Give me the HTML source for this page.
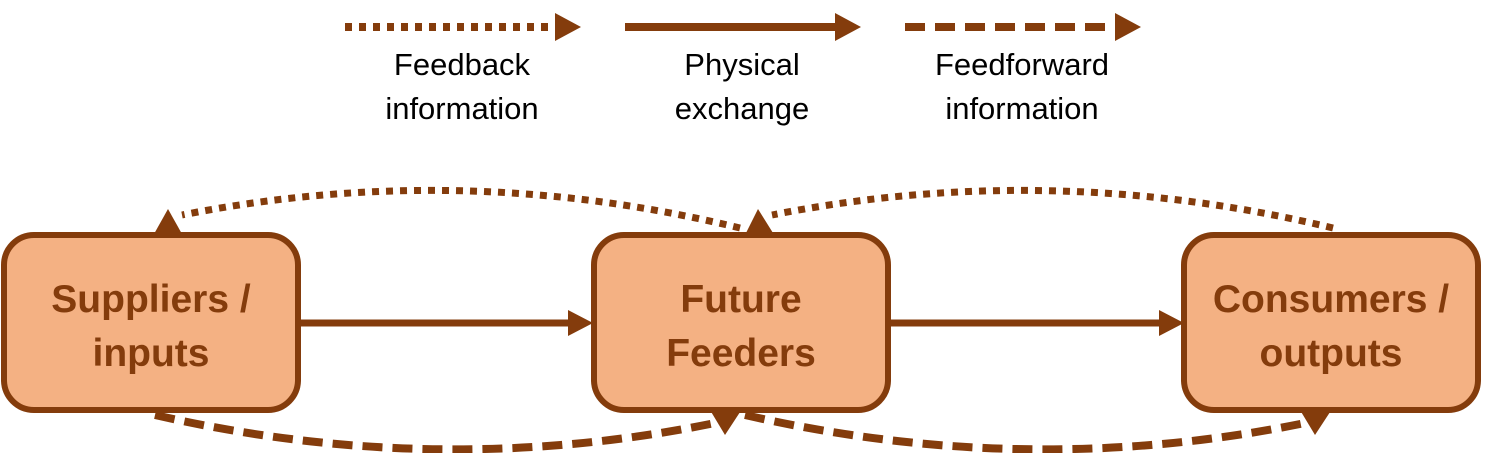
<!DOCTYPE html>
<html><head><meta charset="utf-8"><style>
html,body{margin:0;padding:0;background:#fff;}
svg{display:block;}
</style></head><body>
<svg width="1490" height="453" viewBox="0 0 1490 453" xmlns="http://www.w3.org/2000/svg">
<g fill="#843C0C">
<line x1="345" y1="27" x2="556" y2="27" stroke="#843C0C" stroke-width="8" stroke-dasharray="7 7"/>
<path d="M555,13 L581,27 L555,41 Z"/>
<line x1="625" y1="27" x2="836" y2="27" stroke="#843C0C" stroke-width="8"/>
<path d="M835,13 L861,27 L835,41 Z"/>
<line x1="905" y1="27" x2="1116" y2="27" stroke="#843C0C" stroke-width="8" stroke-dasharray="20 10"/>
<path d="M1115,13 L1141,27 L1115,41 Z"/>
</g>
<g font-family="'Liberation Sans',sans-serif" font-size="31" fill="#000" text-anchor="middle">
<text x="462" y="75">Feedback</text><text x="462" y="119">information</text>
<text x="742" y="75">Physical</text><text x="742" y="119">exchange</text>
<text x="1022" y="75">Feedforward</text><text x="1022" y="119">information</text>
</g>
<g fill="none" stroke="#843C0C" stroke-width="7">
<path d="M740,228 Q460,160 182,215" stroke-dasharray="7 7"/>
<path d="M1333,228 Q1050,160 772,215" stroke-dasharray="7 7"/>
<path d="M155,415 Q440,480 720,422" stroke-dasharray="20 10" stroke-width="8"/>
<path d="M745,415 Q1030,480 1310,422" stroke-dasharray="20 10" stroke-width="8"/>
</g>
<g fill="#843C0C">
<path d="M168,209 L182,234 L154,234 Z"/>
<path d="M758,209 L773,233 L745,235 Z"/>
<path d="M710,410 L744,406 L725,435 Z"/>
<path d="M1300,410 L1334,406 L1315,435 Z"/>
</g>
<g fill="#F4B183" stroke="#843C0C" stroke-width="6">
<rect x="4" y="235" width="294" height="175" rx="30"/>
<rect x="594" y="235" width="294" height="175" rx="30"/>
<rect x="1184" y="235" width="294" height="175" rx="30"/>
</g>
<g fill="#843C0C">
<line x1="298" y1="323" x2="570" y2="323" stroke="#843C0C" stroke-width="7"/>
<path d="M568,310 L593,323 L568,336 Z"/>
<line x1="888" y1="323" x2="1162" y2="323" stroke="#843C0C" stroke-width="7"/>
<path d="M1159,310 L1184,323 L1159,336 Z"/>
</g>
<g font-family="'Liberation Sans',sans-serif" font-size="39" font-weight="bold" fill="#843C0C" text-anchor="middle">
<text x="151" y="312">Suppliers /</text><text x="151" y="366">inputs</text>
<text x="741" y="312">Future</text><text x="741" y="366">Feeders</text>
<text x="1331" y="312">Consumers /</text><text x="1331" y="366">outputs</text>
</g>
</svg>
</body></html>
